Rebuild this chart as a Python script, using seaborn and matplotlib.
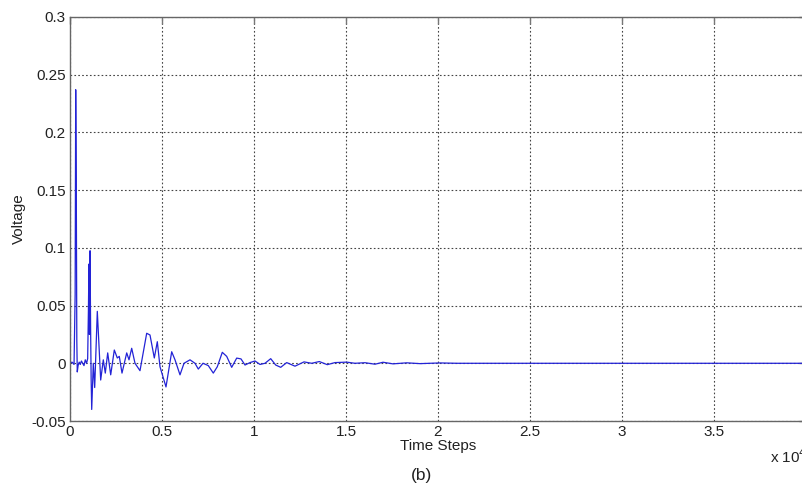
import matplotlib
matplotlib.use("Agg")
import matplotlib.pyplot as plt
from matplotlib.ticker import FuncFormatter
import seaborn as sns
import pandas as pd

time_steps = [0, 110, 220, 280, 310, 340, 370, 395, 440, 500, 560, 620, 690, 760, 830,
              900, 960, 1000, 1030, 1055, 1090, 1120, 1150, 1180, 1266, 1342, 1484, 1668,
              1810, 1918, 2049, 2212, 2408, 2571, 2679, 2826, 3082, 3207, 3353, 3533, 3804,
              4168, 4348, 4582, 4745, 4891, 5217, 5527, 5707, 5978, 6196, 6522, 6793, 6973,
              7228, 7516, 7788, 8005, 8277, 8516, 8788, 9060, 9293, 9511, 9783, 10054, 10326,
              10598, 10908, 11179, 11451, 11777, 12228, 12717, 13136, 13549, 13984, 14402,
              15038, 15489, 16033, 16576, 17011, 17554, 18299, 19022, 20109, 21033, 40000]
voltage = [0.0, 0.001, -0.001, 0.06, 0.237, 0.16, 0.02, -0.0075, -0.002, 0.001, -0.001, 0.002,
           0.0, -0.002, 0.003, 0.0, 0.004, 0.045, 0.086, 0.025, 0.0975, 0.03, -0.015, -0.040,
           0.0, -0.021, 0.045, -0.0145, 0.003, -0.0085, 0.009, -0.010, 0.0115, 0.0046, 0.006,
           -0.0085, 0.009, 0.003, 0.013, 0.0, -0.0064, 0.026, 0.0245, 0.0046, 0.0187, -0.003,
           -0.0205, 0.010, 0.003, -0.010, 0.0, 0.003, 0.0, -0.005, 0.0, -0.002, -0.0085, -0.003,
           0.0095, 0.006, -0.0035, 0.0045, 0.0038, -0.0015, 0.0006, 0.002, -0.001, 0.0, 0.004,
           -0.0015, -0.0035, 0.0006, -0.0025, 0.0012, 0.0, 0.0015, -0.0012, 0.0006, 0.001, 0.0,
           0.0005, -0.0008, 0.0009, -0.0005, 0.0004, -0.0003, 0.0003, 0.0, 0.0]

x_ticks = [0, 5000, 10000, 15000, 20000, 25000, 30000, 35000, 40000]
y_ticks = [-0.05, 0, 0.05, 0.1, 0.15, 0.2, 0.25, 0.3]

sns.set_style("white")
plt.rcParams['font.family'] = ['Liberation Sans', 'DejaVu Sans']

df = pd.DataFrame({"Time Steps": time_steps, "Voltage": voltage})

fig = plt.figure(figsize=(8.02, 4.90), dpi=100)
ax = fig.add_axes([70 / 802, 69 / 490, 736 / 802, 404 / 490])

sns.lineplot(data=df, x="Time Steps", y="Voltage", ax=ax, color="#2323d6",
             linewidth=0.9, sort=False, estimator=None)

ax.set_xlim(0, 40000)
ax.set_ylim(-0.05, 0.3)
ax.set_xticks(x_ticks)
ax.set_yticks(y_ticks)
ax.xaxis.set_major_formatter(FuncFormatter(lambda v, p: "%g" % (v / 1e4)))
ax.yaxis.set_major_formatter(FuncFormatter(lambda v, p: "%g" % round(v, 4)))

ax.grid(True, linestyle=(0, (1.5, 2)), color="#444444", linewidth=0.8)
for s in ax.spines.values():
    s.set_color("#666666")
    s.set_linewidth(1.0)
ax.tick_params(direction="in", length=5, width=1, color="#777777",
               labelsize=11, labelcolor="#222222", pad=3,
               top=True, right=True)

ax.set_xlabel("Time Steps", fontsize=11, color="#222222", labelpad=0)
ax.set_ylabel("Voltage", fontsize=11, color="#222222", labelpad=4)

fig.text(770 / 802, 1 - 457 / 490, "x 10$^4$", fontsize=11, color="#222222",
         ha="left", va="center")
fig.text(421 / 802, 1 - 475 / 490, "(b)", fontsize=12.5, color="#222222",
         ha="center", va="center")

fig.savefig("out.png", dpi=100)
